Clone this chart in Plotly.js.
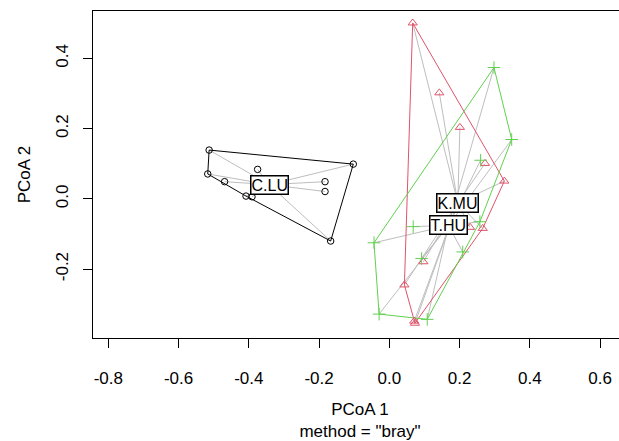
<!DOCTYPE html>
<html>
<head>
<meta charset="utf-8">
<script src="https://cdn.plot.ly/plotly-3.0.1.min.js"></script>
<style>
html, body { margin: 0; padding: 0; overflow: hidden; background: #fff; }
#chart { width: 640px; height: 441px; }
</style>
</head>
<body>
<div id="chart"></div>
<script>
// ---- data ----
const groupNames = ["C.LU", "K.MU", "T.HU"];

const cluX = [-0.513, -0.517, -0.469, -0.375, -0.408, -0.391, -0.1025, -0.183, -0.183, -0.167];
const cluY = [0.139, 0.071, 0.049, 0.084, 0.008, 0.006, 0.099, 0.049, 0.021, -0.120];

const kmuX = [0.0666, 0.1424, 0.201, 0.2725, 0.3275, 0.266, 0.230, 0.097, 0.043, 0.073, 0.071];
const kmuY = [0.501, 0.302, 0.2036, 0.101, 0.0507, -0.084, -0.081, -0.179, -0.245, -0.354, -0.348];

const thuX = [0.298, 0.3485, 0.260, 0.068, -0.0436, 0.092, 0.209, 0.258, -0.029, 0.108];
const thuY = [0.374, 0.169, 0.110, -0.079, -0.125, -0.170, -0.151, -0.065, -0.328, -0.343];

// group centroids (label positions)
const centroidX = [-0.342, 0.195, 0.1686];
const centroidY = [0.0407, -0.0114, -0.0756];

const xTickVals = [-0.8, -0.6, -0.4, -0.2, 0.0, 0.2, 0.4, 0.6];
const xTickText = ["-0.8", "-0.6", "-0.4", "-0.2", "0.0", "0.2", "0.4", "0.6"];
const yTickVals = [-0.2, 0.0, 0.2, 0.4];
const yTickText = ["-0.2", "0.0", "0.2", "0.4"];

// ---- styling ----
const colors = ["#000000", "#DF536B", "#61D04F"];
const symbols = ["circle-open", "triangle-up-open", "cross-thin-open"];
const sizes = [6.5, 8, 9];

const groups = [
  {x: cluX, y: cluY},
  {x: kmuX, y: kmuY},
  {x: thuX, y: thuY}
];

function hull(xs, ys) {
  const pts = xs.map((x, i) => [x, ys[i]]).sort((a, b) => a[0] - b[0] || a[1] - b[1]);
  const cross = (o, a, b) => (a[0] - o[0]) * (b[1] - o[1]) - (a[1] - o[1]) * (b[0] - o[0]);
  const lower = [];
  for (const p of pts) {
    while (lower.length >= 2 && cross(lower[lower.length - 2], lower[lower.length - 1], p) <= 0) lower.pop();
    lower.push(p);
  }
  const upper = [];
  for (let i = pts.length - 1; i >= 0; i--) {
    const p = pts[i];
    while (upper.length >= 2 && cross(upper[upper.length - 2], upper[upper.length - 1], p) <= 0) upper.pop();
    upper.push(p);
  }
  upper.pop(); lower.pop();
  const h = lower.concat(upper);
  h.push(h[0]);
  return h;
}

const traces = [];
// segments to centroids
groups.forEach((g, gi) => {
  const sx = [], sy = [];
  g.x.forEach((x, i) => {
    sx.push(x, centroidX[gi], null);
    sy.push(g.y[i], centroidY[gi], null);
  });
  traces.push({x: sx, y: sy, mode: "lines", type: "scatter",
    line: {color: "#BEBEBE", width: 1}, hoverinfo: "skip", showlegend: false});
});
// hulls
groups.forEach((g, gi) => {
  const h = hull(g.x, g.y);
  traces.push({x: h.map(p => p[0]), y: h.map(p => p[1]), mode: "lines", type: "scatter",
    line: {color: colors[gi], width: 1}, hoverinfo: "skip", showlegend: false});
});
// points
groups.forEach((g, gi) => {
  traces.push({x: g.x, y: g.y, mode: "markers", type: "scatter", name: groupNames[gi],
    marker: {symbol: symbols[gi], size: sizes[gi], color: colors[gi], line: {color: colors[gi], width: 1}},
    showlegend: false});
});

const annotations = groupNames.map((n, i) => ({
  x: centroidX[i], y: centroidY[i], xref: "x", yref: "y", text: n, showarrow: false,
  font: {family: "Liberation Sans, Arial, sans-serif", size: 16, color: "#000"},
  bgcolor: "#ffffff", bordercolor: "#000000", borderwidth: 1.5, borderpad: 0
}));

const font = {family: "Liberation Sans, Arial, sans-serif", size: 17, color: "#000"};

const layout = {
  width: 640, height: 441,
  margin: {l: 93, r: 13, t: 11, b: 103},
  paper_bgcolor: "#fff", plot_bgcolor: "#fff",
  font: font,
  showlegend: false,
  xaxis: {
    range: [-0.8437, 0.6768],
    tickvals: xTickVals, ticktext: xTickText,
    ticks: "outside", ticklen: 9, tickcolor: "#000", tickwidth: 1,
    showline: true, mirror: true, linecolor: "#000", linewidth: 1.3,
    showgrid: false, zeroline: false,
    ticklabelstandoff: 15,
    tickfont: font,
    title: {text: "PCoA 1<br>method = \"bray\"", font: font, standoff: 18}
  },
  yaxis: {
    range: [-0.3961, 0.5350],
    tickvals: yTickVals, ticktext: yTickText,
    ticks: "outside", ticklen: 9, tickcolor: "#000", tickwidth: 1,
    tickangle: -90,
    showline: true, mirror: true, linecolor: "#000", linewidth: 1.3,
    showgrid: false, zeroline: false,
    ticklabelstandoff: 8,
    tickfont: font,
    title: {text: "PCoA 2", font: font, standoff: 18}
  },
  annotations: annotations
};

Plotly.newPlot("chart", traces, layout, {displayModeBar: false, staticPlot: true});
</script>
</body>
</html>
